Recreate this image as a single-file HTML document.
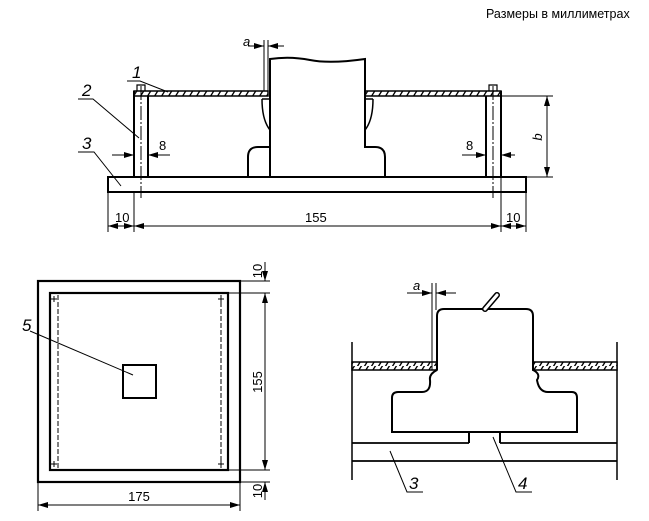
<!DOCTYPE html>
<html><head><meta charset="utf-8"><style>html,body{margin:0;padding:0;background:#fff}svg{display:block}</style></head>
<body>
<svg width="649" height="521" viewBox="0 0 649 521" xmlns="http://www.w3.org/2000/svg" font-family="Liberation Sans, sans-serif">
<defs>
<pattern id="h" width="7" height="6" patternUnits="userSpaceOnUse"><rect width="7" height="6" fill="#fff"/><path d="M0,7 L5,-1" stroke="#000" stroke-width="1.3"/></pattern>
<marker id="a" viewBox="0 0 10 6" refX="10" refY="3" markerWidth="10" markerHeight="6" orient="auto" markerUnits="userSpaceOnUse"><path d="M0,0 L10,3 L0,6z" fill="#000"/></marker>
</defs>
<text x="486" y="18" font-size="12.5">Размеры в миллиметрах</text>
<g stroke="#000" fill="none">
<!-- top view -->
<rect x="108" y="177" width="418" height="15" stroke-width="2"/>
<rect x="134" y="91" width="134" height="5" fill="url(#h)" stroke-width="1.5"/>
<rect x="365" y="91" width="136" height="5" fill="url(#h)" stroke-width="1.5"/>
<path d="M134,91 V177 M148,96 V177 M486,96 V177 M501,91 V177" stroke-width="2"/>
<path d="M141,86 V198 M493,86 V198" stroke-width="1" stroke-dasharray="14,2,2,2"/>
<path d="M137,91 V85 H145 V91 M489,91 V85 H497 V91" stroke-width="1.2"/>
<path d="M270,177 V147 H258 Q248,147 248,157 V177 M270,147 V59 Q290,56 310,60 T365,59 V147 H375 Q385,147 385,157 V177" stroke-width="2"/>
<path d="M262,99 H270 V130 Q262,120 262,99 M373,99 H365 V130 Q373,120 373,99" stroke-width="1.5"/>
<path d="M264,40 V91 M268,40 V91" stroke-width="1"/>
</g>
<g stroke="#000" stroke-width="1" marker-end="url(#a)">
<line x1="248" y1="46" x2="264" y2="46"/>
<line x1="284" y1="46" x2="268" y2="46"/>
<line x1="112" y1="155" x2="134" y2="155"/>
<line x1="170" y1="155" x2="148" y2="155"/>
<line x1="462" y1="155" x2="486" y2="155"/>
<line x1="515" y1="155" x2="501" y2="155"/>
<line x1="547" y1="137" x2="547" y2="96"/>
<line x1="547" y1="137" x2="547" y2="177"/>
<line x1="121" y1="226" x2="108" y2="226"/>
<line x1="121" y1="226" x2="134" y2="226"/>
<line x1="318" y1="226" x2="134" y2="226"/>
<line x1="318" y1="226" x2="501" y2="226"/>
<line x1="513" y1="226" x2="501" y2="226"/>
<line x1="513" y1="226" x2="526" y2="226"/>
<line x1="265" y1="262" x2="265" y2="281"/>
<line x1="265" y1="500" x2="265" y2="482"/>
<line x1="265" y1="382" x2="265" y2="293"/>
<line x1="265" y1="382" x2="265" y2="470"/>
<line x1="139" y1="505" x2="38" y2="505"/>
<line x1="139" y1="505" x2="240" y2="505"/>
<line x1="407" y1="293" x2="432" y2="293"/>
<line x1="456" y1="293" x2="436" y2="293"/>
</g>
<g stroke="#000" fill="none">
<path d="M501,96 H553 M526,177 H553" stroke-width="1"/>
<path d="M108,192 V232 M134,192 V232 M501,177 V232 M526,192 V232" stroke-width="1"/>
<path d="M127,81 H140 L168,92 M78,99 H93 L139,138 M78,152 H94 L121,186" stroke-width="1"/>
<!-- plan view -->
<rect x="38" y="281" width="202" height="201" stroke-width="2.2"/>
<rect x="50" y="293" width="178" height="177" stroke-width="2.2"/>
<path d="M58,295 V468 M221,295 V468" stroke-width="1" stroke-dasharray="5,2"/>
<path d="M51,299 h6 m-3,-3 v6 M218,299 h6 m-3,-3 v6 M51,464 h6 m-3,-3 v6 M218,464 h6 m-3,-3 v6" stroke-width="1"/>
<rect x="123" y="365" width="33" height="33" stroke-width="2"/>
<path d="M30,331 L133,375" stroke-width="1"/>
<path d="M240,281 H270 M228,293 H270 M228,470 H270 M240,482 H270 M38,482 V511 M240,482 V511" stroke-width="1"/>
<!-- detail -->
<path d="M352,342 V480 M617,342 V480" stroke-width="1.5"/>
<rect x="352" y="362" width="85" height="8" fill="url(#h)" stroke-width="1.5"/>
<rect x="533" y="362" width="84" height="8" fill="url(#h)" stroke-width="1.5"/>
<path d="M352,443 H469 M500,443 H617 M352,461 H617" stroke-width="1.8"/>
<path d="M437,370 V316 Q437,309 444,309 H526 Q533,309 533,316 V370 Q541,374 537,380 Q539,392 548,392 H572 Q577,392 577,398 V432 H392 V398 Q392,392 398,392 H422 Q431,392 430,380 Q429,374 437,370" stroke-width="2"/>
<path d="M469,432 V443 M500,432 V443" stroke-width="2"/>
<path d="M485,309 L497,295" stroke-width="6" stroke-linecap="round"/>
<path d="M485,309 L497,295" stroke="#fff" stroke-width="3" stroke-linecap="round"/>
<path d="M432,283 V370 M436,283 V310" stroke-width="1"/>
<path d="M390,451 L407,492 H423 M493,437 L516,492 H532" stroke-width="1"/>
</g>
<g font-size="13">
<text x="243" y="46" font-style="italic">a</text>
<text x="159" y="150">8</text>
<text x="466" y="150">8</text>
<text x="115" y="222">10</text>
<text x="305" y="222">155</text>
<text x="506" y="222">10</text>
<text x="139" y="501" text-anchor="middle">175</text>
<text transform="translate(542,137) rotate(-90)" font-style="italic" text-anchor="middle">b</text>
<text transform="translate(262,382) rotate(-90)" text-anchor="middle">155</text>
<text transform="translate(262,271) rotate(-90)" text-anchor="middle">10</text>
<text transform="translate(262,491) rotate(-90)" text-anchor="middle">10</text>
<text x="413" y="290" font-style="italic">a</text>
</g>
<g font-size="17" font-style="italic">
<text x="132" y="78">1</text>
<text x="82" y="96">2</text>
<text x="82" y="149">3</text>
<text x="22" y="331">5</text>
<text x="409" y="489">3</text>
<text x="518" y="489">4</text>
</g>
</svg>
</body></html>
